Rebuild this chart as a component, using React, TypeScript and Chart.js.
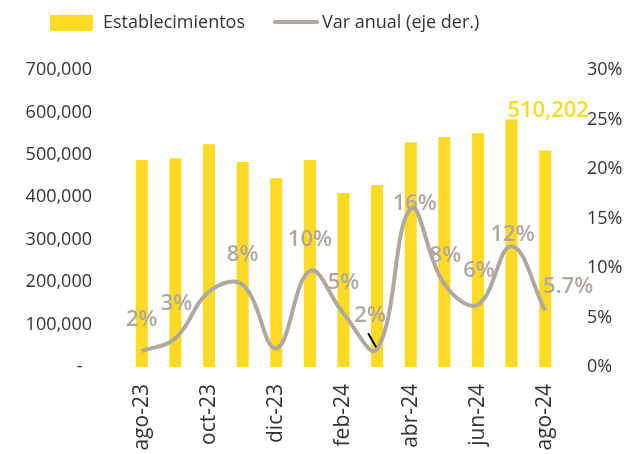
import React, { useEffect, useRef } from "react";
import { Chart, registerables } from "chart.js";

Chart.register(...registerables);

const categories = [
  "ago-23", "sep-23", "oct-23", "nov-23", "dic-23", "ene-24", "feb-24",
  "mar-24", "abr-24", "may-24", "jun-24", "jul-24", "ago-24",
];
const establecimientos = [
  488000, 492000, 525000, 483000, 445000, 488000, 410000,
  429000, 530000, 542000, 551000, 584000, 510202,
];
const varAnual = [1.6, 2.9, 7.6, 8.3, 1.9, 9.7, 5.4, 1.8, 16.0, 8.4, 6.3, 12.2, 5.7];
const varLabels = ["2%", "3%", null, "8%", null, "10%", "5%", "2%", "16%", "8%", "6%", "12%", "5.7%"];
const barLabels = [null, null, null, null, null, null, null, null, null, null, null, null, "510,202"];

// label offsets (styling), in px relative to the point
const varLabelOffsets: [number, number][] = [
  [0, -31], [1, -35], [0, 0], [0, -30], [0, 0], [0, -31], [0, -31],
  [-7, -33], [4, -5], [1, -28], [1, -34], [1, -11], [23, -24],
];
const barLabelOffset: [number, number] = [3, -40];

const YELLOW = "#FDDA24";
const GRAY = "#AFA89F";
const TEXT = "#333333";
const FONT = "'Open Sans', 'Noto Sans', sans-serif";

const labelsPlugin = {
  id: "customLabels",
  afterDatasetsDraw(chart: any) {
    const ctx = chart.ctx;
    ctx.save();
    const lineMeta = chart.getDatasetMeta(1);
    ctx.font = `600 22px ${FONT}`;
    ctx.fillStyle = GRAY;
    ctx.textAlign = "center";
    ctx.textBaseline = "middle";
    lineMeta.data.forEach((pt: any, i: number) => {
      const t = varLabels[i];
      if (!t) return;
      const [dx, dy] = varLabelOffsets[i];
      ctx.fillText(t, pt.x + dx, pt.y + dy);
    });
    const p7 = lineMeta.data[7];
    if (p7) {
      ctx.strokeStyle = "#000000";
      ctx.lineWidth = 2;
      ctx.beginPath();
      ctx.moveTo(p7.x - 9, p7.y - 16);
      ctx.lineTo(p7.x - 1, p7.y - 2);
      ctx.stroke();
    }
    const barMeta = chart.getDatasetMeta(0);
    ctx.fillStyle = YELLOW;
    barMeta.data.forEach((bar: any, i: number) => {
      const t = barLabels[i];
      if (!t) return;
      ctx.fillText(t, bar.x + barLabelOffset[0], bar.y + barLabelOffset[1]);
    });
    ctx.restore();
  },
  afterDraw(chart: any) {
    const ctx = chart.ctx;
    ctx.save();
    ctx.font = `18px ${FONT}`;
    ctx.textBaseline = "middle";
    ctx.textAlign = "left";
    ctx.fillStyle = YELLOW;
    ctx.fillRect(50, 15, 43, 16);
    ctx.fillStyle = TEXT;
    ctx.fillText("Establecimientos", 103, 23);
    ctx.strokeStyle = GRAY;
    ctx.lineWidth = 4;
    ctx.lineCap = "round";
    ctx.beginPath();
    ctx.moveTo(275, 22);
    ctx.lineTo(317, 22);
    ctx.stroke();
    ctx.fillStyle = TEXT;
    ctx.fillText("Var anual (eje der.)", 322, 23);
    ctx.restore();
  },
};

export default function App() {
  const ref = useRef<HTMLCanvasElement>(null);
  useEffect(() => {
    if (!ref.current) return;
    const chart = new Chart(ref.current, {
      type: "bar",
      data: {
        labels: categories,
        datasets: [
          {
            type: "bar",
            label: "Establecimientos",
            data: establecimientos,
            backgroundColor: YELLOW,
            yAxisID: "y",
            categoryPercentage: 1,
            barPercentage: 0.36,
            order: 2,
          },
          {
            type: "line",
            label: "Var anual (eje der.)",
            data: varAnual,
            borderColor: GRAY,
            borderWidth: 4,
            pointRadius: 0,
            tension: 0.4,
            yAxisID: "y1",
            order: 1,
          } as any,
        ],
      },
      options: {
        responsive: false,
        animation: false,
        layout: { padding: { top: 70, left: 0, right: 0, bottom: 0 } },
        plugins: {
          legend: { display: false },
          tooltip: { enabled: false },
        },
        scales: {
          x: {
            grid: { display: false, drawTicks: false },
            border: { display: false },
            ticks: {
              autoSkip: false,
              maxRotation: 90,
              minRotation: 90,
              padding: 17,
              color: TEXT,
              font: { family: FONT, size: 21 },
              callback: (_v: any, i: number) => (i % 2 === 0 ? categories[i] : ""),
            },
            afterFit: (s: any) => { s.height = 87; },
          },
          y: {
            position: "left",
            min: 0,
            max: 700000,
            grid: { display: false, drawTicks: false },
            border: { display: false },
            ticks: {
              stepSize: 100000,
              padding: 33,
              color: TEXT,
              font: { family: FONT, size: 18 },
              callback: (v: any) => (v === 0 ? "-  " : Number(v).toLocaleString("en-US")),
            },
            afterFit: (s: any) => { s.width = 125; },
          },
          y1: {
            position: "right",
            min: 0,
            max: 30,
            grid: { display: false, drawTicks: false },
            border: { display: false },
            ticks: {
              stepSize: 5,
              padding: 25,
              color: TEXT,
              font: { family: FONT, size: 18 },
              callback: (v: any) => `${v}%`,
            },
            afterFit: (s: any) => { s.width = 70; },
          },
        },
      },
      plugins: [labelsPlugin],
    });
    return () => chart.destroy();
  }, []);
  return (
    <div style={{ position: "absolute", left: 0, top: 0, width: 632, height: 454, background: "#fff" }}>
      <canvas ref={ref} width={632} height={454} />
    </div>
  );
}
